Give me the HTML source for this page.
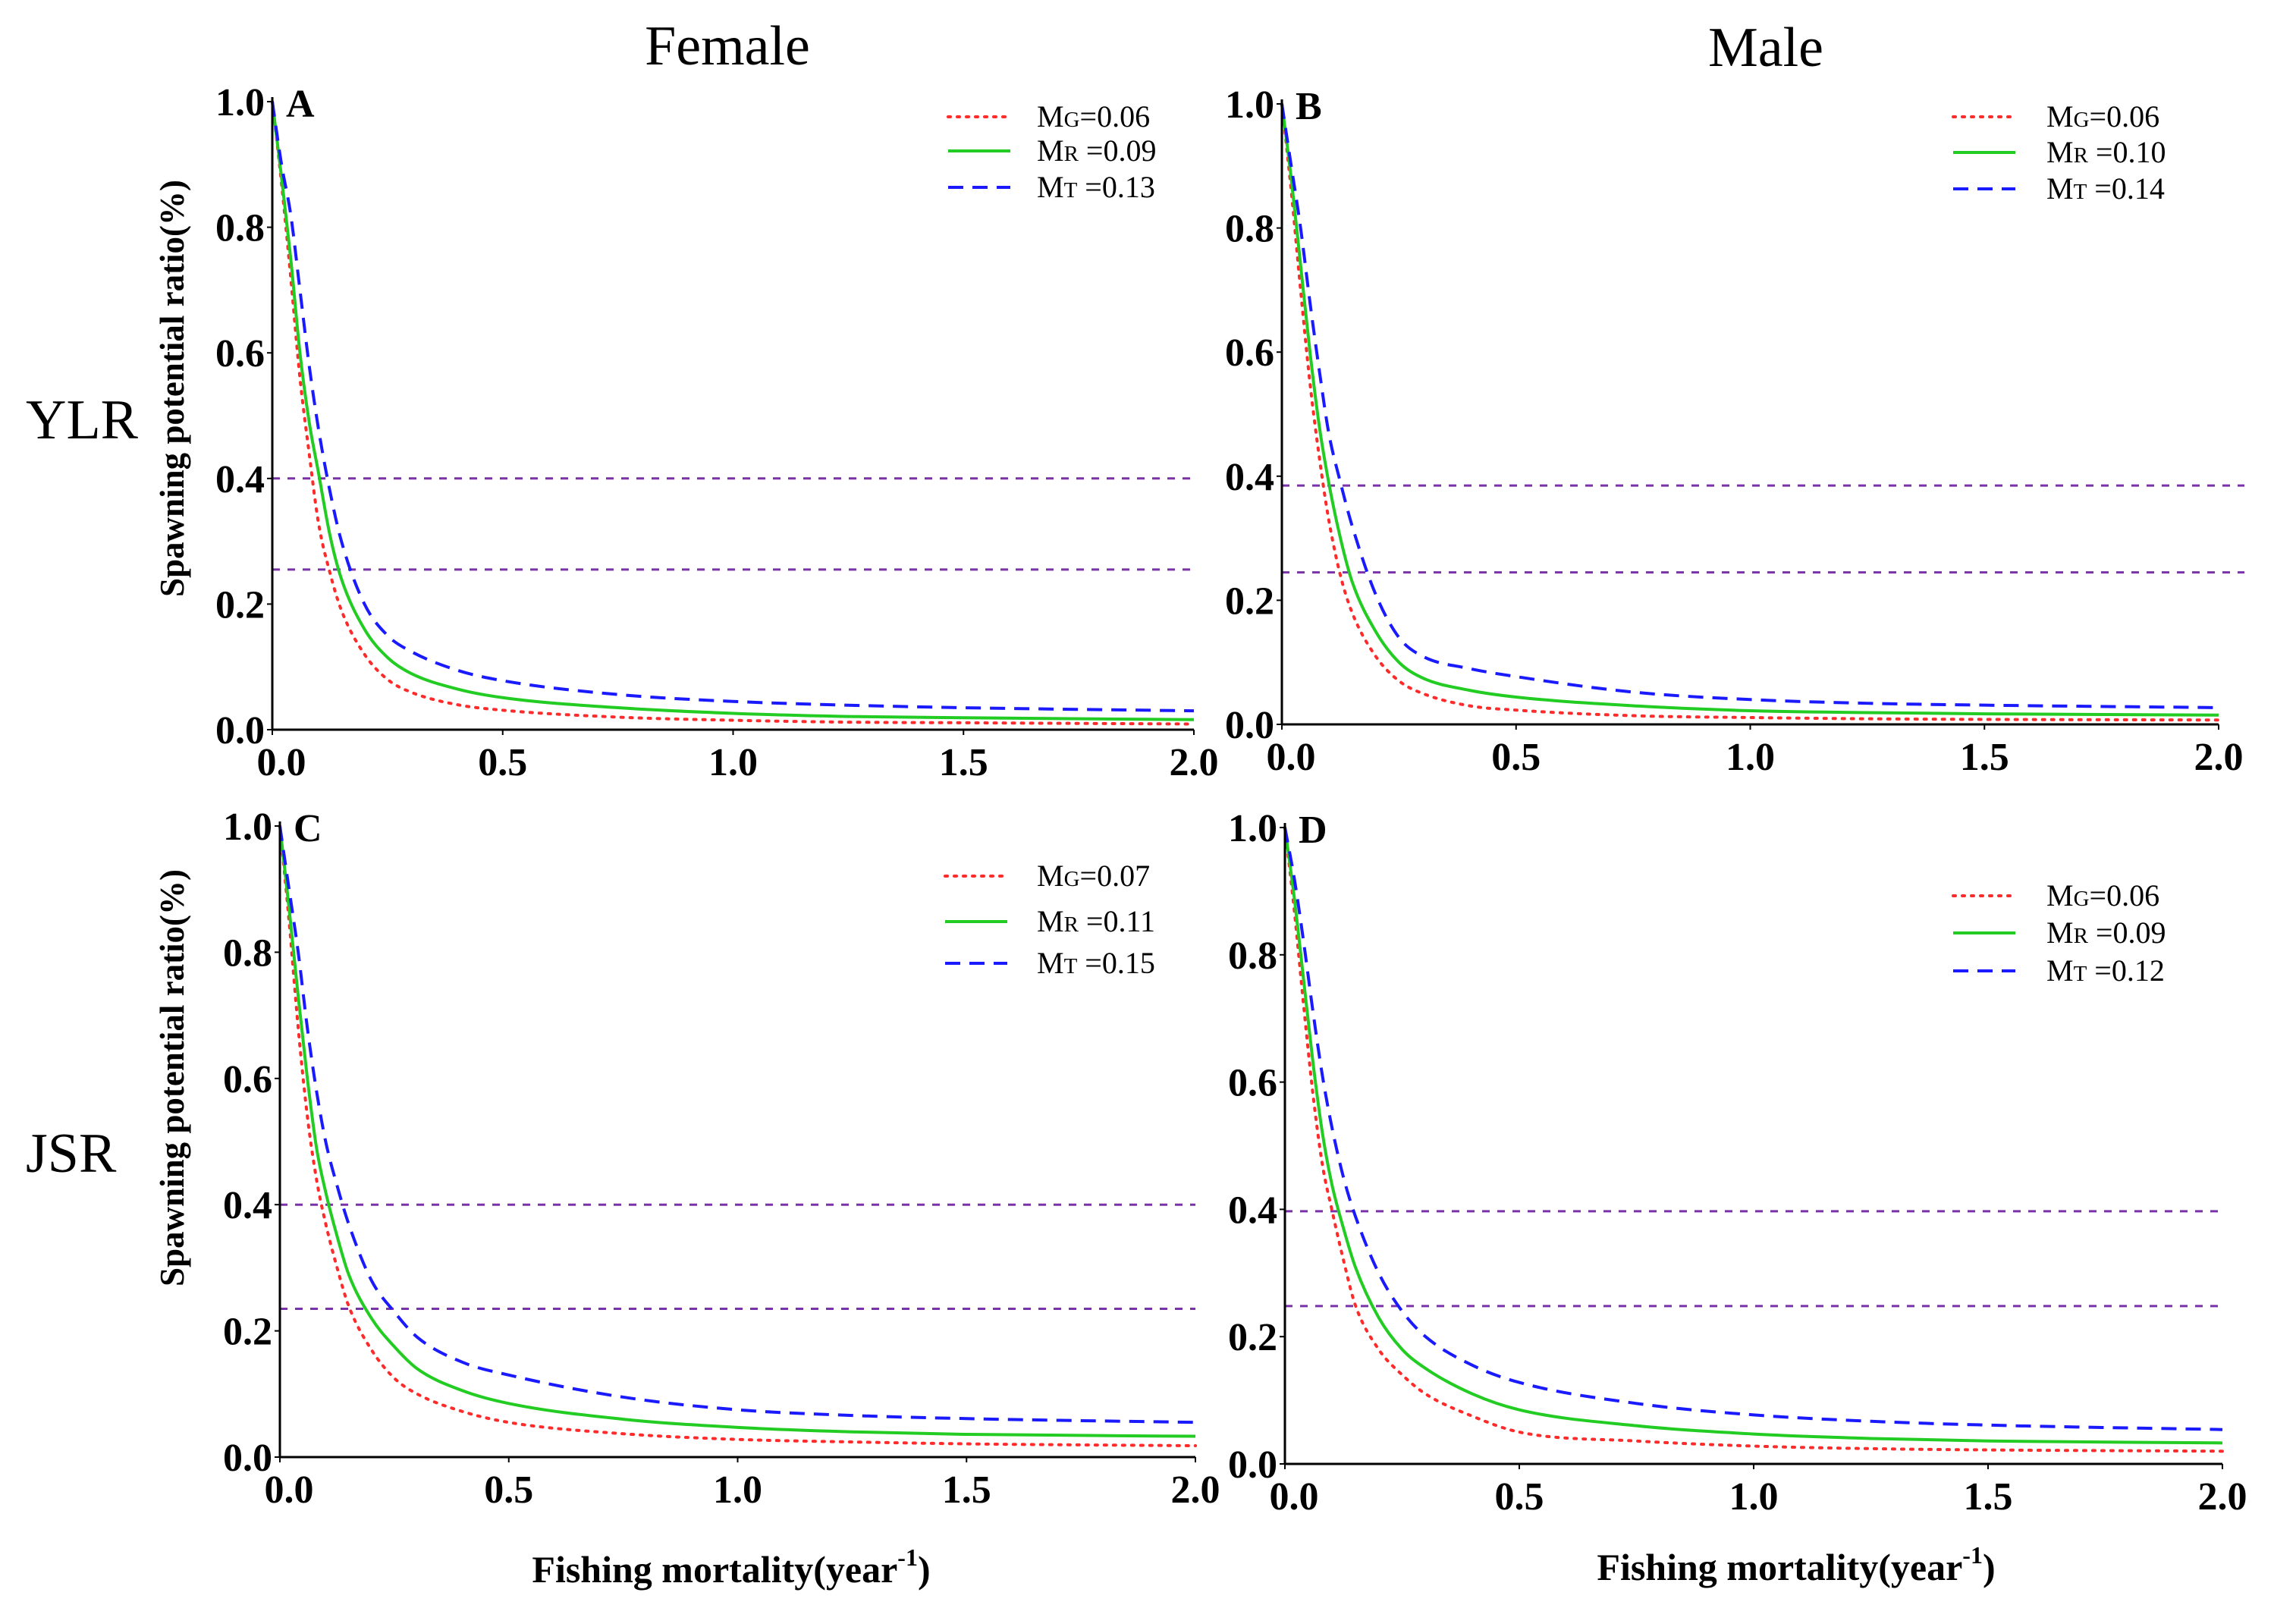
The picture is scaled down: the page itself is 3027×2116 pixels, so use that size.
<!DOCTYPE html>
<html><head><meta charset="utf-8"><style>
html,body{margin:0;padding:0;background:#fff;}
svg{display:block;}
text{font-family:"Liberation Serif",serif;}
</style></head><body>
<svg id="chart" width="3027" height="2116" viewBox="0 0 3027 2116" xmlns="http://www.w3.org/2000/svg">
<rect width="3027" height="2116" fill="#fff"/>
<text x="959" y="85" font-size="74" text-anchor="middle">Female</text>
<text x="2328" y="87" font-size="74" text-anchor="middle">Male</text>
<text x="34" y="578" font-size="74">YLR</text>
<text x="34" y="1545" font-size="74">JSR</text>
<g id="panels"></g>
</svg>
<script>
const fGrid = [0,0.02,0.04,0.06,0.08,0.1,0.125,0.15,0.2,0.25,0.3,0.4,0.5,0.75,1,1.25,1.5,2];
const xTicks = [0,0.5,1,1.5,2];
const xTickLabels = ["0.0","0.5","1.0","1.5","2.0"];
const yTicks = [0,0.2,0.4,0.6,0.8,1];
const yTickLabels = ["0.0","0.2","0.4","0.6","0.8","1.0"];
const panelLetters = ["A","B","C","D"];
const refLinesA = [0.4,0.255];
const refLinesB = [0.385,0.245];
const refLinesC = [0.4,0.235];
const refLinesD = [0.397,0.248];
const legendA = ["0.06","0.09","0.13"];
const legendB = ["0.06","0.10","0.14"];
const legendC = ["0.07","0.11","0.15"];
const legendD = ["0.06","0.09","0.12"];
const redA = [1,.87,.72,.56,.44,.33,.25,.19,.12,.08,.06,.04,.031,.02,.015,.012,.011,.009];
const greenA = [1,.88,.75,.6,.49,.41,.31,.24,.16,.115,.09,.065,.051,.035,.026,.021,.019,.016];
const blueA = [1,.9,.82,.7,.58,.48,.38,.3,.2,.15,.125,.095,.078,.056,.045,.039,.035,.03];
const redB = [1,.86,.7,.55,.43,.33,.24,.18,.11,.07,.05,.03,.023,.014,.011,.009,.008,.007];
const greenB = [1,.88,.74,.6,.48,.39,.3,.23,.15,.1,.075,.055,.044,.03,.022,.019,.017,.015];
const blueB = [1,.9,.8,.68,.57,.47,.39,.32,.21,.14,.11,.09,.077,.052,.04,.034,.031,.027];
const redC = [1,.85,.68,.54,.44,.37,.3,.24,.17,.125,.1,.072,.055,.037,.028,.024,.021,.018];
const greenC = [1,.87,.73,.6,.49,.42,.35,.29,.22,.175,.14,.105,.085,.06,.047,.04,.036,.033];
const blueC = [1,.9,.8,.68,.58,.5,.43,.37,.28,.23,.19,.15,.13,.095,.075,.066,.061,.055];
const redD = [1,.87,.72,.58,.47,.4,.32,.25,.18,.14,.11,.075,.05,.036,.028,.024,.022,.02];
const greenD = [1,.89,.76,.63,.52,.44,.37,.31,.23,.18,.15,.11,.085,.06,.047,.04,.036,.033];
const blueD = [1,.92,.82,.71,.61,.53,.45,.39,.3,.24,.2,.155,.128,.095,.077,.067,.061,.054];

const NS="http://www.w3.org/2000/svg";
const root=document.getElementById('panels');
function mk(tag,attrs,parent){const e=document.createElementNS(NS,tag);for(const k in attrs)e.setAttribute(k,attrs[k]);(parent||root).appendChild(e);return e;}

const layouts=[
 {x0:359,x2:1574,y0:962,y1:134,refEnd:1576,leg:{lx:1250,tx:1367,ys:[154,199,247]},ytitle:[226,512]},
 {x0:1690,x2:2925,y0:955,y1:137,refEnd:2959,leg:{lx:2575,tx:2698,ys:[154,201,249]}},
 {x0:369,x2:1576,y0:1921,y1:1089,refEnd:1576,leg:{lx:1246,tx:1367,ys:[1155,1215,1270]},ytitle:[226,1421],xtitle:[964,2069]},
 {x0:1694,x2:2930,y0:1930,y1:1091,refEnd:2930,leg:{lx:2575,tx:2698,ys:[1181,1230,1280]},xtitle:[2368,2066]}
];
const seriesSets=[[redA,greenA,blueA],[redB,greenB,blueB],[redC,greenC,blueC],[redD,greenD,blueD]];
const refSets=[refLinesA,refLinesB,refLinesC,refLinesD];
const legSets=[legendA,legendB,legendC,legendD];
const styles=[
 {stroke:"#ff2a2a",dash:"3 9",w:4,cap:"round"},
 {stroke:"#22cc22",dash:"",w:4,cap:"butt"},
 {stroke:"#1a1aff",dash:"20 12",w:4,cap:"butt"}
];
const subs=["G","R","T"];
const sNames=["red-dotted","green-solid","blue-dashed"];

function monotonePath(xs,ys){
  const n=xs.length,d=[],m=new Array(n);
  for(let i=0;i<n-1;i++)d.push((ys[i+1]-ys[i])/(xs[i+1]-xs[i]));
  m[0]=d[0];m[n-1]=d[n-2];
  for(let i=1;i<n-1;i++){m[i]=(d[i-1]*d[i]<=0)?0:(d[i-1]+d[i])/2;}
  for(let i=0;i<n-1;i++){if(d[i]===0){m[i]=0;m[i+1]=0;continue;}const a=m[i]/d[i],b=m[i+1]/d[i],s=a*a+b*b;if(s>9){const t=3/Math.sqrt(s);m[i]=t*a*d[i];m[i+1]=t*b*d[i];}}
  let p="M"+xs[0]+","+ys[0];
  for(let i=0;i<n-1;i++){const h=(xs[i+1]-xs[i])/3;p+=" C"+(xs[i]+h)+","+(ys[i]+m[i]*h)+" "+(xs[i+1]-h)+","+(ys[i+1]-m[i+1]*h)+" "+xs[i+1]+","+ys[i+1];}
  return p;
}

layouts.forEach((L,pi)=>{
  const g=mk('g',{});
  
  
  const sx=v=>L.x0+(L.x2-L.x0)*v/2;
  const sy=v=>L.y0-(L.y0-L.y1)*v;
  refSets[pi].forEach((r,ri)=>{
    const l=mk('line',{x1:L.x0,x2:L.refEnd,y1:sy(r),y2:sy(r),stroke:"#7a32a8","stroke-width":3,"stroke-dasharray":"10 10"},g);
    
    
  });
  seriesSets[pi].forEach((vals,si)=>{
    const st=styles[si];
    const xs=fGrid.map(sx),ys=vals.map(sy);
    const p=mk('path',{d:monotonePath(xs,ys),fill:"none",stroke:st.stroke,"stroke-width":st.w,"stroke-dasharray":st.dash,"stroke-linecap":st.cap},g);
    
    
  });
  const ya=mk('line',{x1:L.x0,x2:L.x0,y1:L.y1-6,y2:L.y0,stroke:"#000","stroke-width":3},g);
  
  
  const xa=mk('line',{x1:L.x0,x2:L.x2,y1:L.y0,y2:L.y0,stroke:"#000","stroke-width":3},g);
  
  
  yTicks.forEach((v,i)=>{
    mk('line',{x1:L.x0-7,x2:L.x0,y1:sy(v),y2:sy(v),stroke:"#000","stroke-width":2},g);
    const t=mk('text',{x:L.x0-10,y:sy(v)+18,"font-size":52,"font-weight":"bold","text-anchor":"end"},g);
    t.textContent=yTickLabels[i];
    
    
  });
  xTicks.forEach((v,i)=>{
    mk('line',{x1:sx(v),x2:sx(v),y1:L.y0,y2:L.y0+7,stroke:"#000","stroke-width":2},g);
    const t=mk('text',{x:sx(v)+(i===0?12:0),y:L.y0+60,"font-size":52,"font-weight":"bold","text-anchor":"middle"},g);
    t.textContent=xTickLabels[i];
    
    
  });
  const pl=mk('text',{x:L.x0+18,y:L.y1+20,"font-size":52,"font-weight":"bold"},g);
  pl.textContent=panelLetters[pi];
  
  
  const lg=mk('g',{},g);
  
  
  legSets[pi].forEach((val,si)=>{
    const st=styles[si],y=L.leg.ys[si];
    const e=mk('g',{},lg);
    
    
    mk('line',{x1:L.leg.lx,x2:L.leg.lx+82,y1:y,y2:y,stroke:st.stroke,"stroke-width":st.w,"stroke-dasharray":st.dash,"stroke-linecap":st.cap},e);
    const t=mk('text',{x:L.leg.tx,y:y+13,"font-size":40},e);
    const a=mk('tspan',{},t);a.textContent="M";
    const b=mk('tspan',{"font-size":29},t);b.textContent=subs[si];
    const c=mk('tspan',{},t);c.textContent=(si===0?"":" ")+"="+val;
  });
  if(L.ytitle){
    const t=mk('text',{x:L.ytitle[0],y:L.ytitle[1],"font-size":45,"font-weight":"bold","text-anchor":"middle",transform:"rotate(-90 "+L.ytitle[0]+" "+L.ytitle[1]+")",dy:16},g);
    t.textContent="Spawning potential ratio(%)";
    
    
  }
  if(L.xtitle){
    const t=mk('text',{x:L.xtitle[0],y:L.xtitle[1]+17,"font-size":50,"font-weight":"bold","text-anchor":"middle"},g);
    const a=mk('tspan',{},t);a.textContent="Fishing mortality(year";
    const b=mk('tspan',{"font-size":32,dy:-22},t);b.textContent="-1";
    const c=mk('tspan',{dy:22},t);c.textContent=")";
    
    
  }
});
</script>
</body></html>
